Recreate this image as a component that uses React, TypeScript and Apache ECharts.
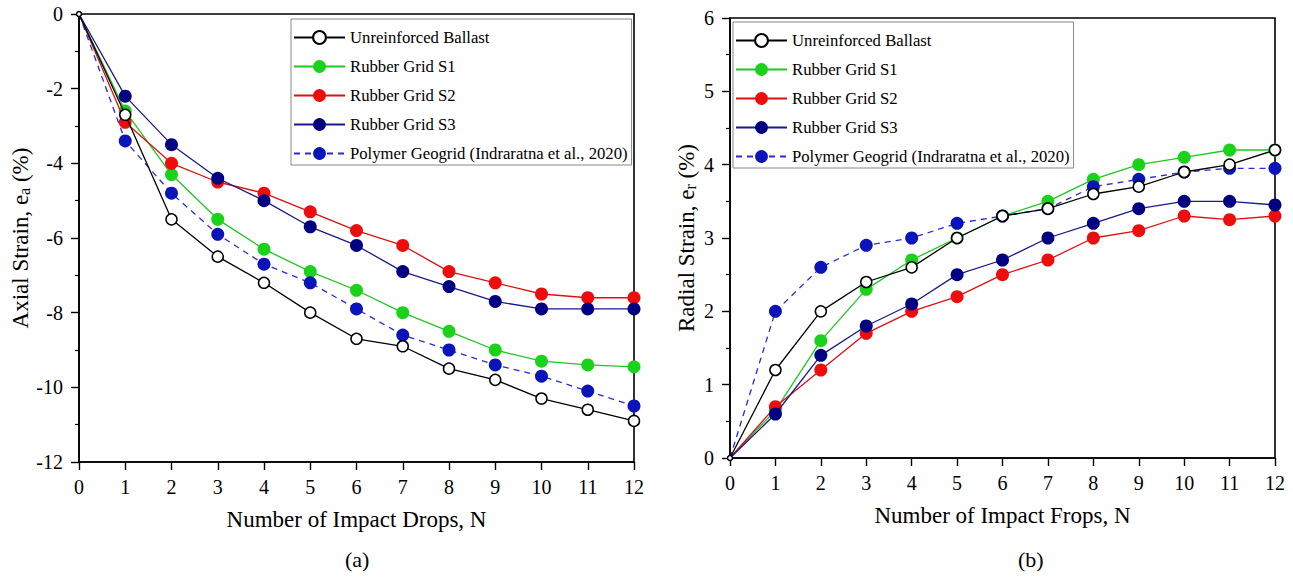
import React, { useEffect, useRef } from "react";
import * as echarts from "echarts";

const drops = [0, 1, 2, 3, 4, 5, 6, 7, 8, 9, 10, 11, 12];
const seriesNames = [
  "Unreinforced Ballast",
  "Rubber Grid S1",
  "Rubber Grid S2",
  "Rubber Grid S3",
  "Polymer Geogrid (Indraratna et al., 2020)",
];

// (a) Axial strain
const axialUnreinforced = [0, -2.7, -5.5, -6.5, -7.2, -8.0, -8.7, -8.9, -9.5, -9.8, -10.3, -10.6, -10.9];
const axialS1 = [0, -2.6, -4.3, -5.5, -6.3, -6.9, -7.4, -8.0, -8.5, -9.0, -9.3, -9.4, -9.45];
const axialS2 = [0, -2.9, -4.0, -4.5, -4.8, -5.3, -5.8, -6.2, -6.9, -7.2, -7.5, -7.6, -7.6];
const axialS3 = [0, -2.2, -3.5, -4.4, -5.0, -5.7, -6.2, -6.9, -7.3, -7.7, -7.9, -7.9, -7.9];
const axialPolymer = [0, -3.4, -4.8, -5.9, -6.7, -7.2, -7.9, -8.6, -9.0, -9.4, -9.7, -10.1, -10.5];

// (b) Radial strain
const radialUnreinforced = [0, 1.2, 2.0, 2.4, 2.6, 3.0, 3.3, 3.4, 3.6, 3.7, 3.9, 4.0, 4.2];
const radialS1 = [0, 0.65, 1.6, 2.3, 2.7, 3.0, 3.3, 3.5, 3.8, 4.0, 4.1, 4.2, 4.2];
const radialS2 = [0, 0.7, 1.2, 1.7, 2.0, 2.2, 2.5, 2.7, 3.0, 3.1, 3.3, 3.25, 3.3];
const radialS3 = [0, 0.6, 1.4, 1.8, 2.1, 2.5, 2.7, 3.0, 3.2, 3.4, 3.5, 3.5, 3.45];
const radialPolymer = [0, 2.0, 2.6, 2.9, 3.0, 3.2, 3.3, 3.4, 3.7, 3.8, 3.9, 3.95, 3.95];

const axialTicks = { min: -12, max: 0, interval: 2 };
const radialTicks = { min: 0, max: 6, interval: 1 };
const dropTicks = { min: 0, max: 12, interval: 1 };

const FONT = "'Liberation Serif', 'Times New Roman', serif";

const styles = [
  { line: "#000000", fill: "#ffffff", border: "#000000", dashed: false, size: 11 },
  { line: "#1ec81e", fill: "#19d219", border: "#19d219", dashed: false, size: 13 },
  { line: "#e01010", fill: "#ee0c0c", border: "#ee0c0c", dashed: false, size: 13 },
  { line: "#1a1a8c", fill: "#000080", border: "#000080", dashed: false, size: 13 },
  { line: "#2a2ad8", fill: "#0a14b8", border: "#0a14b8", dashed: true, size: 13 },
];

function buildSeries(values: number[][], axisIndex: number) {
  return values.map((vals, i) => {
    const s = styles[i];
    return {
      name: seriesNames[i],
      type: "line",
      xAxisIndex: axisIndex,
      yAxisIndex: axisIndex,
      data: drops.map((x, k) => [x, vals[k]]),
      symbol: "circle",
      symbolSize: (v: number[]) => (v[0] === 0 ? 5 : s.size),
      z: i === 0 ? 6 : 3 + i * 0.1,
      lineStyle: {
        color: s.line,
        width: 1.3,
        type: s.dashed ? [6, 5] : "solid",
      },
      itemStyle: {
        color: s.fill,
        borderColor: s.border,
        borderWidth: i === 0 ? 1.5 : 0,
      },
    };
  });
}

function App() {
  const ref = useRef<HTMLDivElement>(null);
  useEffect(() => {
    if (!ref.current) return;
    const chart = echarts.init(ref.current, null, { renderer: "svg" });

    const axisBase = {
      axisLine: { show: true, onZero: false, lineStyle: { color: "#000", width: 1.6 } },
      axisTick: { show: true, inside: false, length: 8, lineStyle: { color: "#000", width: 1.4 } },
      splitLine: { show: false },
    };

    const xAxis = (gridIndex: number, name: string) => ({
      type: "value",
      gridIndex,
      ...dropTicks,
      name,
      nameLocation: "middle",
      nameGap: 46,
      nameTextStyle: { color: "#000", fontFamily: FONT, fontSize: 23 },
      axisLabel: { color: "#000", fontFamily: FONT, fontSize: 20, margin: 15 },
      ...axisBase,
    });

    const yAxis = (gridIndex: number, ticks: any, prefix: string, sub: string, gap: number) => ({
      type: "value",
      gridIndex,
      ...ticks,
      name: `{t|${prefix}}{s|${sub}}{t| (%)}`,
      nameLocation: "middle",
      nameRotate: 90,
      nameGap: gap,
      nameTextStyle: {
        color: "#000",
        fontFamily: FONT,
        fontSize: 23,
        rich: {
          t: { fontFamily: FONT, fontSize: 23, color: "#000", lineHeight: 28, verticalAlign: "bottom" },
          s: { fontFamily: FONT, fontSize: 16, color: "#000", lineHeight: 14, verticalAlign: "bottom" },
        },
      },
      axisLabel: { color: "#000", fontFamily: FONT, fontSize: 20, margin: 16 },
      minorTick: { show: true, splitNumber: 2, length: 4, lineStyle: { color: "#000", width: 1.2 } },
      ...axisBase,
    });

    const legend = (left: number, top: number, padTop: number) => ({
      orient: "vertical",
      left,
      top,
      data: seriesNames,
      itemWidth: 51,
      itemHeight: 16,
      itemGap: 12,
      padding: [padTop, 4, 3, 2],
      borderColor: "#888",
      borderWidth: 1,
      backgroundColor: "#fff",
      textStyle: { color: "#000", fontFamily: FONT, fontSize: 16.7 },
      selectedMode: false,
    });

    chart.setOption({
      animation: false,
      backgroundColor: "#fff",
      grid: [
        { left: 79, top: 14, width: 555, height: 448, show: true, borderColor: "#000", borderWidth: 1.6, backgroundColor: "transparent" },
        { left: 730, top: 18, width: 545, height: 440, show: true, borderColor: "#000", borderWidth: 1.6, backgroundColor: "transparent" },
      ],
      xAxis: [
        xAxis(0, "Number of Impact Drops, N"),
        xAxis(1, "Number of Impact Frops, N"),
      ],
      yAxis: [
        yAxis(0, axialTicks, "Axial Strain, e", "a", 42),
        yAxis(1, radialTicks, "Radial Strain, e", "r", 32),
      ],
      legend: [legend(291, 19, 10), legend(733, 22, 10)],
      graphic: [
        { type: "text", left: 345, top: 548, style: { text: "(a)", font: `22px ${FONT}`, fill: "#000" } },
        { type: "text", left: 1018, top: 548, style: { text: "(b)", font: `22px ${FONT}`, fill: "#000" } },
      ],
      series: [
        ...buildSeries([axialUnreinforced, axialS1, axialS2, axialS3, axialPolymer], 0),
        ...buildSeries([radialUnreinforced, radialS1, radialS2, radialS3, radialPolymer], 1),
      ],
    });
    return () => chart.dispose();
  }, []);
  return (
    <div
      ref={ref}
      style={{ position: "fixed", left: 0, top: 0, width: 1293, height: 577, background: "#fff" }}
    />
  );
}

export default App;
